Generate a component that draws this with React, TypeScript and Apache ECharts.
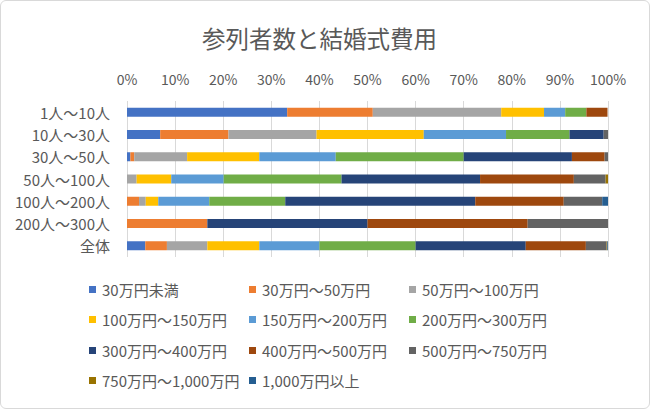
import React, { useEffect, useRef } from "react";
import * as echarts from "echarts";

const categories = ["1人～10人", "10人～30人", "30人～50人", "50人～100人", "100人～200人", "200人～300人", "全体"];
const seriesNames = [
  "30万円未満",
  "30万円～50万円",
  "50万円～100万円",
  "100万円～150万円",
  "150万円～200万円",
  "200万円～300万円",
  "300万円～400万円",
  "400万円～500万円",
  "500万円～750万円",
  "750万円～1,000万円",
  "1,000万円以上",
];
const s1 = [33.3, 6.9, 0.7, 0, 0, 0, 3.8];
const s2 = [17.8, 14.2, 0.8, 0, 2.5, 16.7, 4.5];
const s3 = [26.7, 18.3, 11.0, 2.0, 1.4, 0, 8.4];
const s4 = [8.9, 22.3, 15.0, 7.2, 2.6, 0, 10.8];
const s5 = [4.4, 17.1, 15.9, 10.9, 10.6, 0, 12.5];
const s6 = [4.4, 13.2, 26.6, 24.5, 15.8, 0, 20.0];
const s7 = [0, 7.1, 22.5, 28.8, 39.5, 33.3, 22.9];
const s8 = [4.4, 0, 6.8, 19.5, 18.4, 33.3, 12.5];
const s9 = [0, 0.9, 0.7, 6.6, 8.0, 16.7, 4.3];
const s10 = [0, 0, 0, 0.5, 0, 0, 0.15];
const s11 = [0, 0, 0, 0, 1.2, 0, 0.15];
const seriesValues = [s1, s2, s3, s4, s5, s6, s7, s8, s9, s10, s11];
const colors = ["#4472C4", "#ED7D31", "#A5A5A5", "#FFC000", "#5B9BD5", "#70AD47", "#264478", "#9E480E", "#636363", "#997300", "#255E91"];
const tickMax = 100;
const tickStep = 10;

const FONT = "'Noto Sans CJK JP', 'Noto Sans', sans-serif";
const TEXT = "#595959";

export default function App() {
  const ref = useRef<HTMLDivElement>(null);
  useEffect(() => {
    if (!ref.current) return;
    const chart = echarts.init(ref.current, undefined, { renderer: "svg" });
    const colLeft = [89, 249, 409];
    const rowTop = [282, 312, 343, 373];
    const legends = seriesNames.map((n, i) => ({
      data: [n],
      left: colLeft[i % 3],
      top: rowTop[Math.floor(i / 3)],
      padding: 0,
      itemWidth: 7,
      itemHeight: 7,
      itemGap: 0,
      icon: "rect",
      textStyle: { color: TEXT, fontSize: 15, fontFamily: FONT, padding: [0, 0, 0, 1] },
    }));
    chart.setOption({
      animation: false,
      color: colors,
      title: {
        text: "参列者数と結婚式費用",
        left: 197,
        top: 21,
        textStyle: { color: TEXT, fontSize: 23.5, fontWeight: "normal", fontFamily: FONT },
      },
      legend: legends,
      grid: { left: 127, right: 42, top: 101, height: 156 },
      xAxis: {
        type: "value",
        position: "top",
        min: 0,
        max: tickMax,
        interval: tickStep,
        axisLine: { show: false },
        axisTick: { show: false },
        axisLabel: { formatter: "{value}%", color: TEXT, fontSize: 14, fontFamily: FONT, margin: 15 },
        splitLine: { lineStyle: { color: "#d9d9d9", width: 1 } },
      },
      yAxis: {
        type: "category",
        data: categories,
        inverse: true,
        axisLine: { show: false },
        axisTick: { show: false },
        axisLabel: { color: TEXT, fontSize: 15, fontFamily: FONT, margin: 17 },
      },
      series: seriesValues.map((v, i) => ({
        name: seriesNames[i],
        type: "bar",
        stack: "total",
        barWidth: 9,
        data: v,
      })),
    });
    return () => chart.dispose();
  }, []);
  return (
    <div
      style={{
        position: "fixed",
        left: 0,
        top: 0,
        width: 650,
        height: 409,
        boxSizing: "border-box",
        border: "1px solid #d9d9d9",
        borderRadius: 6,
        background: "#fff",
        overflow: "hidden",
      }}
    >
      <div ref={ref} style={{ position: "absolute", left: -1, top: -1, width: 650, height: 409 }} />
    </div>
  );
}
